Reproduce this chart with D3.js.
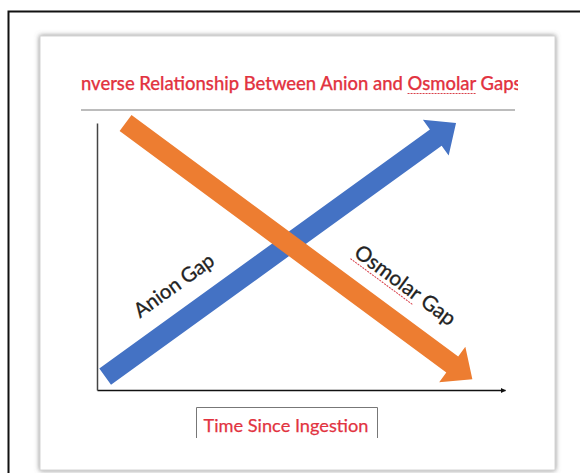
<!DOCTYPE html>
<html>
<head>
<meta charset="utf-8">
<script src="https://cdn.jsdelivr.net/npm/d3@7"></script>
<style>
  html, body { margin: 0; padding: 0; background: #fff; }
  svg { display: block; }
</style>
</head>
<body>
<svg width="580" height="473"></svg>
<script>
// series (time 0..1, relative level 0..1)
const anionTime = [0.02, 0.88];
const anionLevel = [0.05, 1.0];
const osmolarTime = [0.07, 0.92];
const osmolarLevel = [1.0, 0.04];

const titleText = "Inverse Relationship Between Anion and Osmolar Gaps";
const xLabel = "Time Since Ingestion";
const seriesLabels = ["Anion Gap", "Osmolar Gap"];
const colors = ["#4472c4", "#ed7d31"];

const svg = d3.select("svg");
const font = "Lato, 'Open Sans', sans-serif";

// outer frame
svg.append("path")
  .attr("d", "M8.5,473V11.5H580")
  .attr("fill", "none")
  .attr("stroke", "#111")
  .attr("stroke-width", 2);

// paper card with shadow
const defs = svg.append("defs");
const f = defs.append("filter").attr("id", "sh")
  .attr("x", "-5%").attr("y", "-5%").attr("width", "110%").attr("height", "110%");
f.append("feDropShadow").attr("dx", 0).attr("dy", 0)
  .attr("stdDeviation", 2.5).attr("flood-color", "#777").attr("flood-opacity", 0.9);

svg.append("rect")
  .attr("x", 40).attr("y", 36).attr("width", 515).attr("height", 434)
  .attr("fill", "#fff").attr("stroke", "#d4d4d4").attr("stroke-width", 1)
  .attr("filter", "url(#sh)");

// fit a text element to a target width by changing its font size
function fitWidth(sel, target, from, len) {
  const n = sel.node();
  const w = (from === undefined) ? n.getComputedTextLength() : n.getSubStringLength(from, len);
  const cur = +sel.attr("font-size");
  sel.attr("font-size", cur * target / w);
}

// title, clipped at both ends
defs.append("clipPath").attr("id", "tclip")
  .append("rect").attr("x", 81).attr("y", 60).attr("width", 437).attr("height", 45);

const tg = svg.append("g").attr("clip-path", "url(#tclip)");
const title = tg.append("text")
  .attr("y", 90)
  .attr("font-family", font)
  .attr("font-size", 15)
  .attr("font-weight", 500)
  .attr("fill", "#e2333f")
  .attr("stroke", "#e2333f").attr("stroke-width", 0.25)
  .text(titleText);
fitWidth(title, 441, 1, titleText.length - 1);
const wI = title.node().getSubStringLength(0, 1);
title.attr("x", 81 - wI);
const oi = titleText.indexOf("Osmolar");
const ox = 81 - wI + title.node().getSubStringLength(0, oi);
const ow = title.node().getSubStringLength(oi, 7);
tg.append("line")
  .attr("x1", ox).attr("x2", ox + ow)
  .attr("y1", 93.5).attr("y2", 93.5)
  .attr("stroke", "#d9404a").attr("stroke-width", 1)
  .attr("stroke-dasharray", "2,1");

// rule under title
svg.append("line")
  .attr("x1", 81).attr("x2", 515)
  .attr("y1", 110).attr("y2", 110)
  .attr("stroke", "#7a7a7a").attr("stroke-width", 1.2);

// scales and axes
const x = d3.scaleLinear().domain([0, 1]).range([97, 505]);
const y = d3.scaleLinear().domain([0, 1]).range([390, 123]);

defs.append("marker").attr("id", "ah")
  .attr("viewBox", "0 0 10 10").attr("refX", 9).attr("refY", 5)
  .attr("markerWidth", 5).attr("markerHeight", 5)
  .attr("markerUnits", "userSpaceOnUse")
  .attr("orient", "auto")
  .append("path").attr("d", "M0,0L10,5L0,10Z").attr("fill", "#111");

const gx = svg.append("g")
  .attr("transform", `translate(0,${y(0)})`)
  .call(d3.axisBottom(x).tickValues([]).tickSizeOuter(0));
gx.select(".domain").attr("stroke", "#111").attr("stroke-width", 1.6)
  .attr("marker-end", "url(#ah)");

const gy = svg.append("g")
  .attr("transform", `translate(${x(0)},0)`)
  .call(d3.axisLeft(y).tickValues([]).tickSizeOuter(0));
gy.select(".domain").attr("stroke", "#444").attr("stroke-width", 1.5);

// block arrow polygon
function arrowPoly(x0, y0, x1, y1, shaft, head, headLen) {
  const dx = x1 - x0, dy = y1 - y0;
  const L = Math.hypot(dx, dy);
  const ux = dx / L, uy = dy / L;
  const px = -uy, py = ux;
  const bx = x1 - ux * headLen, by = y1 - uy * headLen;
  const s = shaft / 2, h = head / 2;
  return [
    [x0 + px * s, y0 + py * s],
    [bx + px * s, by + py * s],
    [bx + px * h, by + py * h],
    [x1, y1],
    [bx - px * h, by - py * h],
    [bx - px * s, by - py * s],
    [x0 - px * s, y0 - py * s]
  ];
}

const series = [
  { t: anionTime, v: anionLevel, c: colors[0] },
  { t: osmolarTime, v: osmolarLevel, c: colors[1] }
];

svg.append("g").selectAll("path")
  .data(series)
  .enter()
  .append("path")
  .attr("fill", d => d.c)
  .attr("d", d => {
    const pts = arrowPoly(x(d.t[0]), y(d.v[0]), x(d.t[1]), y(d.v[1]), 20, 44, 25);
    return d3.line()(pts) + "Z";
  });

// labels along arrows
function angleOf(d) {
  return Math.atan2(y(d.v[1]) - y(d.v[0]), x(d.t[1]) - x(d.t[0])) * 180 / Math.PI;
}

const a0 = angleOf(series[0]);
const lab1 = svg.append("text")
  .attr("transform", `translate(178,291) rotate(${a0})`)
  .attr("text-anchor", "middle")
  .attr("font-family", font)
  .attr("font-size", 18)
  .attr("fill", "#222")
  .attr("stroke", "#222").attr("stroke-width", 0.3)
  .text(seriesLabels[0]);
fitWidth(lab1, 94);

const a1 = angleOf(series[1]);
const g2 = svg.append("g").attr("transform", `translate(401,291) rotate(${a1})`);
const lab2 = g2.append("text")
  .attr("text-anchor", "middle")
  .attr("font-family", font)
  .attr("font-size", 18)
  .attr("fill", "#222")
  .attr("stroke", "#222").attr("stroke-width", 0.3)
  .text(seriesLabels[1]);
fitWidth(lab2, 120);
const tw = lab2.node().getComputedTextLength();
const sw = lab2.node().getSubStringLength(0, 7);
g2.append("line")
  .attr("x1", -tw / 2).attr("x2", -tw / 2 + sw)
  .attr("y1", 4).attr("y2", 4)
  .attr("stroke", "#d9404a").attr("stroke-width", 1)
  .attr("stroke-dasharray", "2,1");

// x label box (open at the bottom)
svg.append("path")
  .attr("d", "M196.5,438V407.5H377.5V438")
  .attr("fill", "none")
  .attr("stroke", "#777")
  .attr("stroke-width", 1);

const xl = svg.append("text")
  .attr("x", 286).attr("y", 432)
  .attr("text-anchor", "middle")
  .attr("font-family", font)
  .attr("font-size", 16)
  .attr("fill", "#e2333f")
  .attr("stroke", "#e2333f").attr("stroke-width", 0.25)
  .text(xLabel);
fitWidth(xl, 165);
</script>
</body>
</html>
